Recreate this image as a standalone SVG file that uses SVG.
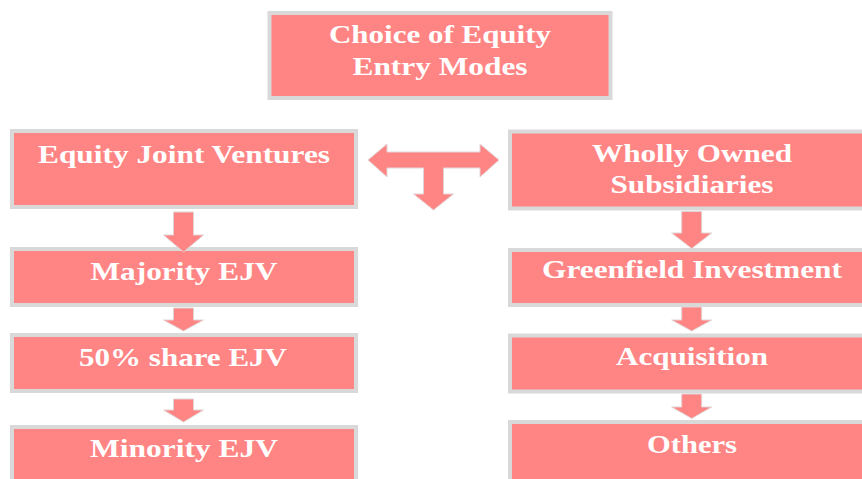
<svg xmlns="http://www.w3.org/2000/svg" width="862" height="479" viewBox="0 0 862 479">
  <style>
    .box { fill: #FF8585; stroke: #D9D9D9; stroke-width: 4; }
    .arrow { fill: #FF8585; stroke: #E2D4D4; stroke-width: 1; stroke-linejoin: miter; }
    .label { font-family: "Liberation Serif", "Times New Roman", serif; font-weight: bold; font-size: 25px; fill: #FFFFFF; text-anchor: middle; }
  </style>
  <rect width="862" height="479" fill="#FFFFFF"/>

  <g id="node-root">
    <rect class="box" x="269.5" y="13" width="341" height="85"/>
    <text class="label" x="440" y="43" textLength="222" lengthAdjust="spacingAndGlyphs">Choice of Equity</text>
    <text class="label" x="440" y="75" textLength="175" lengthAdjust="spacingAndGlyphs">Entry Modes</text>
  </g>

  <g id="node-ejv">
    <rect class="box" x="12" y="131" width="344" height="76"/>
    <text class="label" x="184" y="163" textLength="292" lengthAdjust="spacingAndGlyphs">Equity Joint Ventures</text>
  </g>
  <g id="node-majority">
    <rect class="box" x="12" y="249" width="344" height="56"/>
    <text class="label" x="184" y="280" textLength="187" lengthAdjust="spacingAndGlyphs">Majority EJV</text>
  </g>
  <g id="node-fifty">
    <rect class="box" x="12" y="335" width="344" height="56"/>
    <text class="label" x="183" y="366" textLength="208" lengthAdjust="spacingAndGlyphs">50% share EJV</text>
  </g>
  <g id="node-minority">
    <rect class="box" x="12" y="427" width="344" height="60"/>
    <text class="label" x="184" y="457" textLength="188" lengthAdjust="spacingAndGlyphs">Minority EJV</text>
  </g>

  <g id="node-wos">
    <rect class="box" x="510" y="131.5" width="360" height="77"/>
    <text class="label" x="692" y="162" textLength="200" lengthAdjust="spacingAndGlyphs">Wholly Owned</text>
    <text class="label" x="692" y="193" textLength="163" lengthAdjust="spacingAndGlyphs">Subsidiaries</text>
  </g>
  <g id="node-greenfield">
    <rect class="box" x="510" y="250" width="360" height="55"/>
    <text class="label" x="692" y="278" textLength="300" lengthAdjust="spacingAndGlyphs">Greenfield Investment</text>
  </g>
  <g id="node-acquisition">
    <rect class="box" x="510" y="335.5" width="360" height="56"/>
    <text class="label" x="692" y="365" textLength="152" lengthAdjust="spacingAndGlyphs">Acquisition</text>
  </g>
  <g id="node-others">
    <rect class="box" x="510" y="422" width="360" height="70"/>
    <text class="label" x="692" y="453" textLength="90" lengthAdjust="spacingAndGlyphs">Others</text>
  </g>

  <g id="connectors">
    <!-- split arrow between the two branches -->
    <polygon class="arrow" points="368,160 387,144 387,152 480,152 480,144 499,160 480,177 480,168 443.5,168 443.5,194 453.5,194 433.5,210 413.5,194 423.5,194 423.5,168 387,168 387,177"/>
    <!-- left column -->
    <polygon class="arrow" points="173.5,212 193.5,212 193.5,235 203.5,235 183.5,252 163.5,235 173.5,235"/>
    <polygon class="arrow" points="173.5,308 193.5,308 193.5,320 203.5,320 183.5,331 163.5,320 173.5,320"/>
    <polygon class="arrow" points="173.5,399 193.5,399 193.5,410 203.5,410 183.5,422 163.5,410 173.5,410"/>
    <!-- right column -->
    <polygon class="arrow" points="681.7,211.5 701.7,211.5 701.7,233 711.7,233 691.7,248.5 671.7,233 681.7,233"/>
    <polygon class="arrow" points="681.7,307 701.7,307 701.7,320 711.7,320 691.7,331 671.7,320 681.7,320"/>
    <polygon class="arrow" points="681.7,394 701.7,394 701.7,407 711.7,407 691.7,418.5 671.7,407 681.7,407"/>
  </g>
</svg>
